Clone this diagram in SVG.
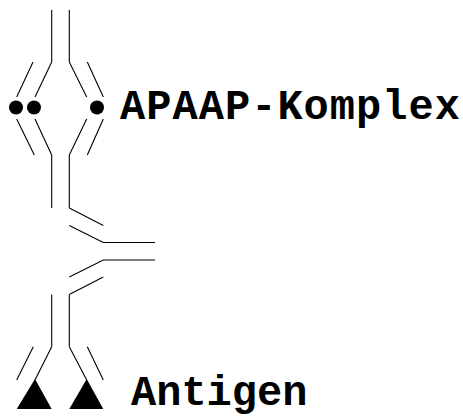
<svg xmlns="http://www.w3.org/2000/svg" width="463" height="416" viewBox="0 0 463 416">
  <style>
    .ln { fill: none; stroke: #000; stroke-width: 1.1; }
    .lbl { font-family: "Liberation Mono", "Courier New", monospace; font-weight: bold; font-size: 42px; fill: #000; }
    .ag { fill: #000; }
  </style>
  <rect width="463" height="416" fill="#fff"/>

  <!-- APAAP complex: two Y shapes joined at the enzyme dots -->
  <g id="apaap">
    <path class="ln" d="M51.7,10 V62 M69.3,10 V62"/>
    <path class="ln" d="M33,62 L16.7,97 M51.7,62 L35,97 M69.3,62 L86.7,97 M87.3,62 L103.3,97"/>
    <path class="ln" d="M16.7,119 L34.3,155 M35,119 L51.7,155 M86.7,119 L69.3,155 M103.3,119 L87.3,155"/>
    <path class="ln" d="M51.7,155 V208 M69.3,155 V208"/>
    <circle cx="16" cy="107.5" r="7"/>
    <circle cx="34" cy="107.5" r="7"/>
    <circle cx="97" cy="107.5" r="7"/>
  </g>

  <!-- bridging antibody -->
  <g id="bridge">
    <path class="ln" d="M69.3,208 L103.3,225.5"/>
    <path class="ln" d="M69.3,225.5 L103.3,242.5 H155"/>
    <path class="ln" d="M155,260 H103.3 L69.3,277"/>
    <path class="ln" d="M103.3,277 L69.3,294.5"/>
  </g>

  <!-- primary antibody bound to antigen -->
  <g id="primary">
    <path class="ln" d="M51.7,294.5 V346.7 M69.3,294.5 V346.7"/>
    <path class="ln" d="M33.3,346.7 L16.7,380 M51.7,346.7 L35,380 M69.3,346.7 L86.7,380 M87.3,346.7 L103.3,380"/>
  </g>

  <g id="antigen">
    <polygon class="ag" points="35,379 16.7,409 51.7,409"/>
    <polygon class="ag" points="86.7,379 69.3,409 103.3,409"/>
  </g>

  <g id="labels">
    <text class="lbl" x="120" y="118.5" textLength="340" lengthAdjust="spacing">APAAP-Komplex</text>
    <text class="lbl" x="131" y="404.5">Antigen</text>
  </g>
</svg>
